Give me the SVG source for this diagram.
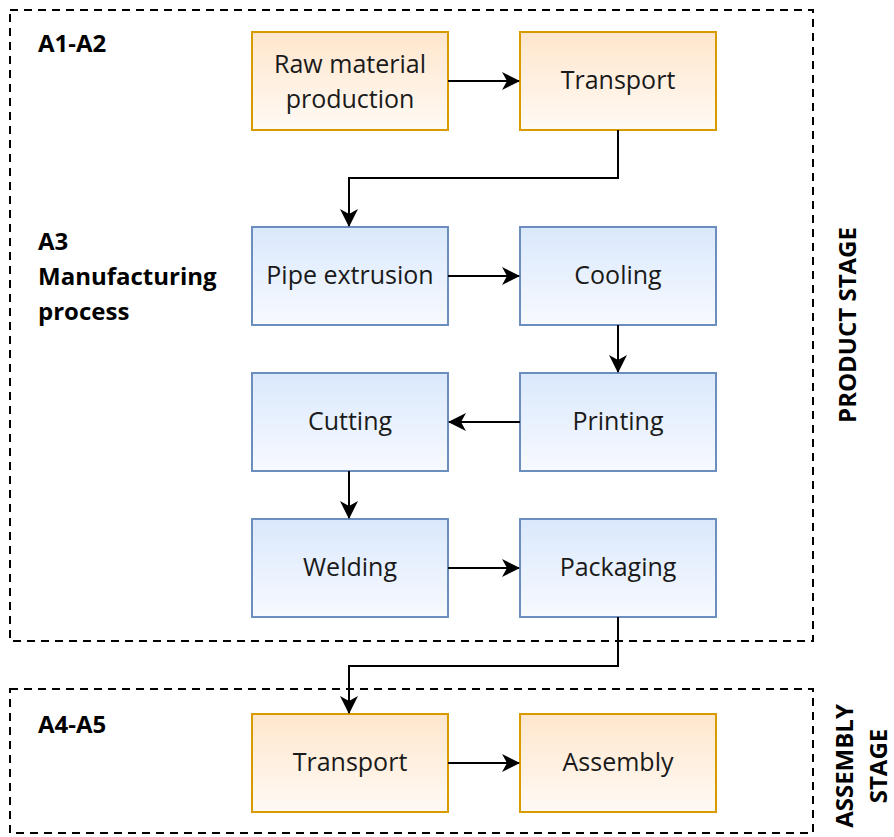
<svg xmlns="http://www.w3.org/2000/svg" width="894" height="837" viewBox="0 0 894 837">
<style>
.frame{fill:none;stroke:#000;stroke-width:2;stroke-dasharray:8 6}
.o{fill:url(#go);stroke:#d79b00;stroke-width:2}
.b{fill:url(#gb);stroke:#6c8ebf;stroke-width:2}
.t{font-family:"Open Sans","Noto Sans","DejaVu Sans",sans-serif;font-size:25px;fill:#1a1a1a;text-anchor:middle}
.lb{font-family:"Open Sans","Noto Sans","DejaVu Sans",sans-serif;font-size:24px;font-weight:bold;fill:#000}
.c{fill:none;stroke:#000;stroke-width:2;marker-end:url(#ah)}
</style>
<defs>
<linearGradient id="go" x1="0" y1="0" x2="0" y2="1"><stop offset="0" stop-color="#ffe6cc"/><stop offset="1" stop-color="#fffaf5"/></linearGradient>
<linearGradient id="gb" x1="0" y1="0" x2="0" y2="1"><stop offset="0" stop-color="#dae8fc"/><stop offset="1" stop-color="#f7faff"/></linearGradient>
<marker id="ah" viewBox="0 0 18 18" refX="17" refY="9" markerWidth="18" markerHeight="18" markerUnits="userSpaceOnUse" orient="auto"><path d="M0,0 L18,9 L0,18 L5,9 Z" fill="#000"/></marker>
</defs>
<rect width="894" height="837" fill="#fff"/>
<g id="product-stage">
<rect class="frame" x="10" y="10" width="803" height="631"/>
<text class="lb" x="38" y="52">A1-A2</text>
<text class="lb" x="38" y="250">A3</text>
<text class="lb" x="38" y="285">Manufacturing</text>
<text class="lb" x="38" y="320">process</text>
<text class="lb" transform="translate(856 325) rotate(-90)" text-anchor="middle">PRODUCT STAGE</text>
</g>
<g id="assembly-stage">
<rect class="frame" x="10" y="689" width="803" height="144"/>
<text class="lb" x="38" y="733">A4-A5</text>
<text class="lb" transform="translate(855 766) rotate(-90)" text-anchor="middle"><tspan x="0" y="-2">ASSEMBLY</tspan><tspan x="0" y="32">STAGE</tspan></text>
</g>
<g id="raw"><rect class="o" x="252" y="32" width="196" height="98"/><text class="t" x="350" y="73">Raw material</text><text class="t" x="350" y="108">production</text></g>
<g id="transport1"><rect class="o" x="520" y="32" width="196" height="98"/><text class="t" x="618" y="89">Transport</text></g>
<g id="extrusion"><rect class="b" x="252" y="227" width="196" height="98"/><text class="t" x="350" y="284">Pipe extrusion</text></g>
<g id="cooling"><rect class="b" x="520" y="227" width="196" height="98"/><text class="t" x="618" y="284">Cooling</text></g>
<g id="cutting"><rect class="b" x="252" y="373" width="196" height="98"/><text class="t" x="350" y="430">Cutting</text></g>
<g id="printing"><rect class="b" x="520" y="373" width="196" height="98"/><text class="t" x="618" y="430">Printing</text></g>
<g id="welding"><rect class="b" x="252" y="519" width="196" height="98"/><text class="t" x="350" y="576">Welding</text></g>
<g id="packaging"><rect class="b" x="520" y="519" width="196" height="98"/><text class="t" x="618" y="576">Packaging</text></g>
<g id="transport2"><rect class="o" x="252" y="714" width="196" height="98"/><text class="t" x="350" y="771">Transport</text></g>
<g id="assembly"><rect class="o" x="520" y="714" width="196" height="98"/><text class="t" x="618" y="771">Assembly</text></g>
<g id="connectors">
<path class="c" d="M448,81 H519"/>
<path class="c" d="M618,130 V178 H349 V226"/>
<path class="c" d="M448,276 H519"/>
<path class="c" d="M618,325 V372"/>
<path class="c" d="M520,422 H449"/>
<path class="c" d="M349,471 V518"/>
<path class="c" d="M448,568 H519"/>
<path class="c" d="M618,617 V666 H349 V713"/>
<path class="c" d="M448,763 H519"/>
</g>
</svg>
